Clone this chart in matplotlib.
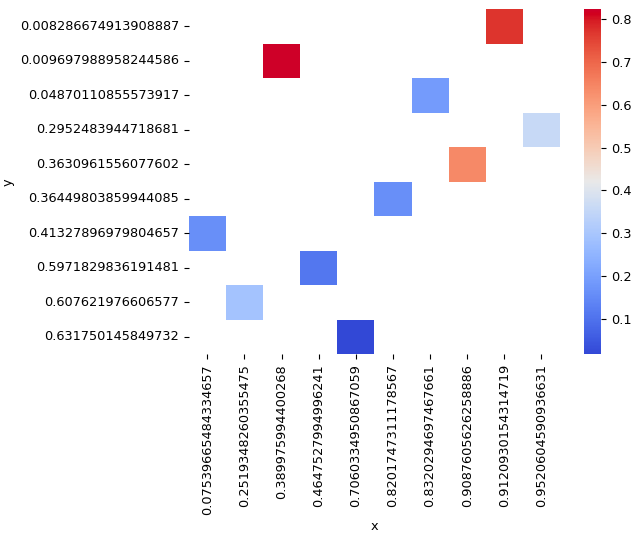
import matplotlib
matplotlib.use("Agg")
import matplotlib.pyplot as plt
import seaborn as sns
import pandas as pd
import numpy as np
import colorsys
from matplotlib.colors import ListedColormap

x_vals = [0.9120930154314719, 0.3899759944002680, 0.8320294697467661, 0.9520604590936631,
          0.9087605626258886, 0.8201747311178567, 0.07539665484334657, 0.4647527994996241,
          0.2519348260355475, 0.7060334950867059]
y_vals = [0.008286674913908887, 0.009697988958244586, 0.04870110855573917, 0.2952483944718681,
          0.3630961556077602, 0.36449803859944085, 0.41327896979804657, 0.5971829836191481,
          0.607621976606577, 0.631750145849732]
values = [0.77, 0.823, 0.19, 0.36, 0.64, 0.16, 0.16, 0.11, 0.29, 0.018]

# slightly more vivid version of coolwarm, as seen in the reference
base = plt.get_cmap("coolwarm")(np.linspace(0, 1, 256))
vivid = []
for r, g, b, a in base:
    h, s, v = colorsys.rgb_to_hsv(r, g, b)
    s = min(1.0, s * 1.1)
    v = v + (1.0 - v) * 0.35
    vivid.append(colorsys.hsv_to_rgb(h, s, v))
cmap = ListedColormap(vivid)

plt.rcParams["font.size"] = 9.3
df = pd.DataFrame({"x": x_vals, "y": y_vals, "v": values})
table = df.pivot(index="y", columns="x", values="v")

fig = plt.figure(figsize=(6.4, 5.4), dpi=100)
ax = fig.add_axes([0.295, 0.344, 0.580, 0.639])
cax = fig.add_axes([0.9125, 0.344, 0.0266, 0.639])
sns.heatmap(table, cmap=cmap, ax=ax, cbar_ax=cax)
ax.set_xlabel("x")
ax.set_ylabel("y")
fig.savefig("out.png")
